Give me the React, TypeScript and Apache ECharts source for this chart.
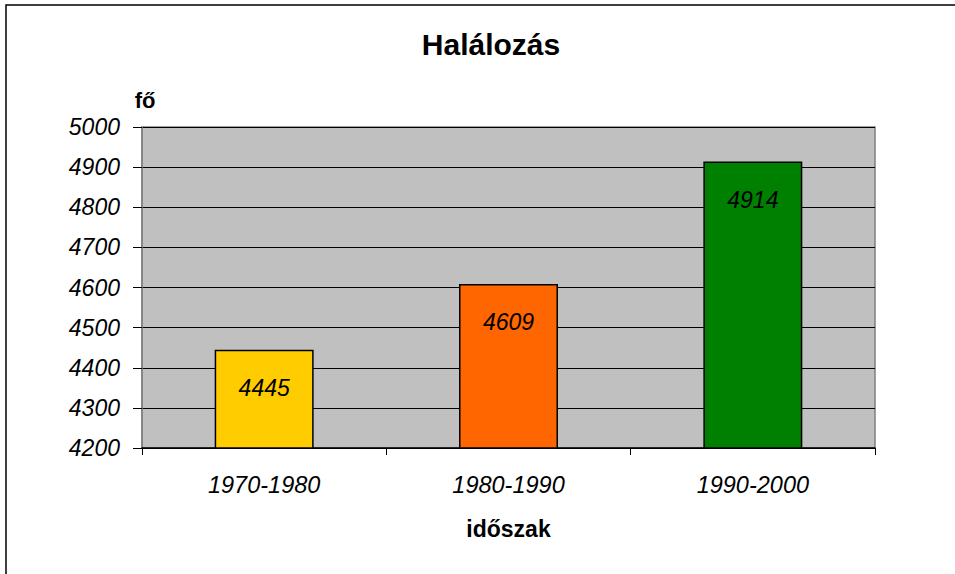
import React, { useEffect, useRef } from "react";
import * as echarts from "echarts";

const categories = ["1970-1980", "1980-1990", "1990-2000"];
const values = [4445, 4609, 4914];
const barColors = ["#FFCC00", "#FF6600", "#008000"];
const titleText = "Halálozás";
const yName = "fő";
const xName = "időszak";
const yMin = 4200;
const yMax = 5000;
const yStep = 100;

const FONT = "'Liberation Sans', Arial, sans-serif";

export default function App() {
  const ref = useRef<HTMLDivElement>(null);
  useEffect(() => {
    if (!ref.current) return;
    const chart = echarts.init(ref.current, null, { renderer: "svg" });
    chart.setOption({
      animation: false,
      backgroundColor: "#FFFFFF",
      textStyle: { fontFamily: FONT },
      title: {
        text: titleText,
        left: 486,
        textAlign: "center",
        top: 24,
        textStyle: { fontFamily: FONT, fontSize: 30, fontWeight: "bold", color: "#000" },
      },
      graphic: [
        {
          type: "rect",
          shape: { x: 6, y: 5, width: 960, height: 600 },
          style: { fill: "none", stroke: "#000", lineWidth: 1.5 },
          silent: true,
          z: 100,
        },
      ],
      grid: {
        left: 142,
        right: 80,
        top: 127,
        bottom: 126,
        show: true,
        backgroundColor: "#C0C0C0",
        borderColor: "#808080",
        borderWidth: 1.5,
      },
      xAxis: {
        type: "category",
        data: categories,
        name: xName,
        nameLocation: "middle",
        nameGap: 69,
        nameTextStyle: { fontFamily: FONT, fontSize: 23, fontWeight: "bold", color: "#000" },
        axisLine: { show: true, lineStyle: { color: "#000", width: 1.5 } },
        axisTick: { show: true, length: 7, lineStyle: { color: "#000" } },
        axisLabel: {
          margin: 25,
          fontFamily: FONT,
          fontSize: 23.5,
          fontStyle: "italic",
          color: "#000",
        },
        splitLine: { show: false },
      },
      yAxis: {
        type: "value",
        min: yMin,
        max: yMax,
        interval: yStep,
        name: yName,
        nameLocation: "end",
        nameGap: 16,
        nameTextStyle: {
          fontFamily: FONT,
          fontSize: 22,
          fontWeight: "bold",
          color: "#000",
          padding: [0, 0, 0, 6],
        },
        axisLine: { show: true, lineStyle: { color: "#808080", width: 1.5 } },
        axisTick: { show: true, length: 9, lineStyle: { color: "#000" } },
        axisLabel: {
          margin: 22,
          fontFamily: FONT,
          fontSize: 23,
          fontStyle: "italic",
          color: "#000",
          formatter: (v: number) => String(v),
        },
        splitLine: { show: true, lineStyle: { color: "#000", width: 1 } },
      },
      series: [
        {
          type: "bar",
          barWidth: "40.5%",
          data: values.map((v, i) => ({
            value: v,
            itemStyle: { color: barColors[i], borderColor: "#000", borderWidth: 1.5 },
          })),
          label: {
            show: true,
            position: "insideTop",
            distance: 27,
            fontFamily: FONT,
            fontSize: 23,
            fontStyle: "italic",
            color: "#000",
          },
        },
      ],
    });
    return () => chart.dispose();
  }, []);
  return (
    <div
      ref={ref}
      style={{ position: "absolute", left: 0, top: 0, width: 955, height: 574 }}
    />
  );
}
